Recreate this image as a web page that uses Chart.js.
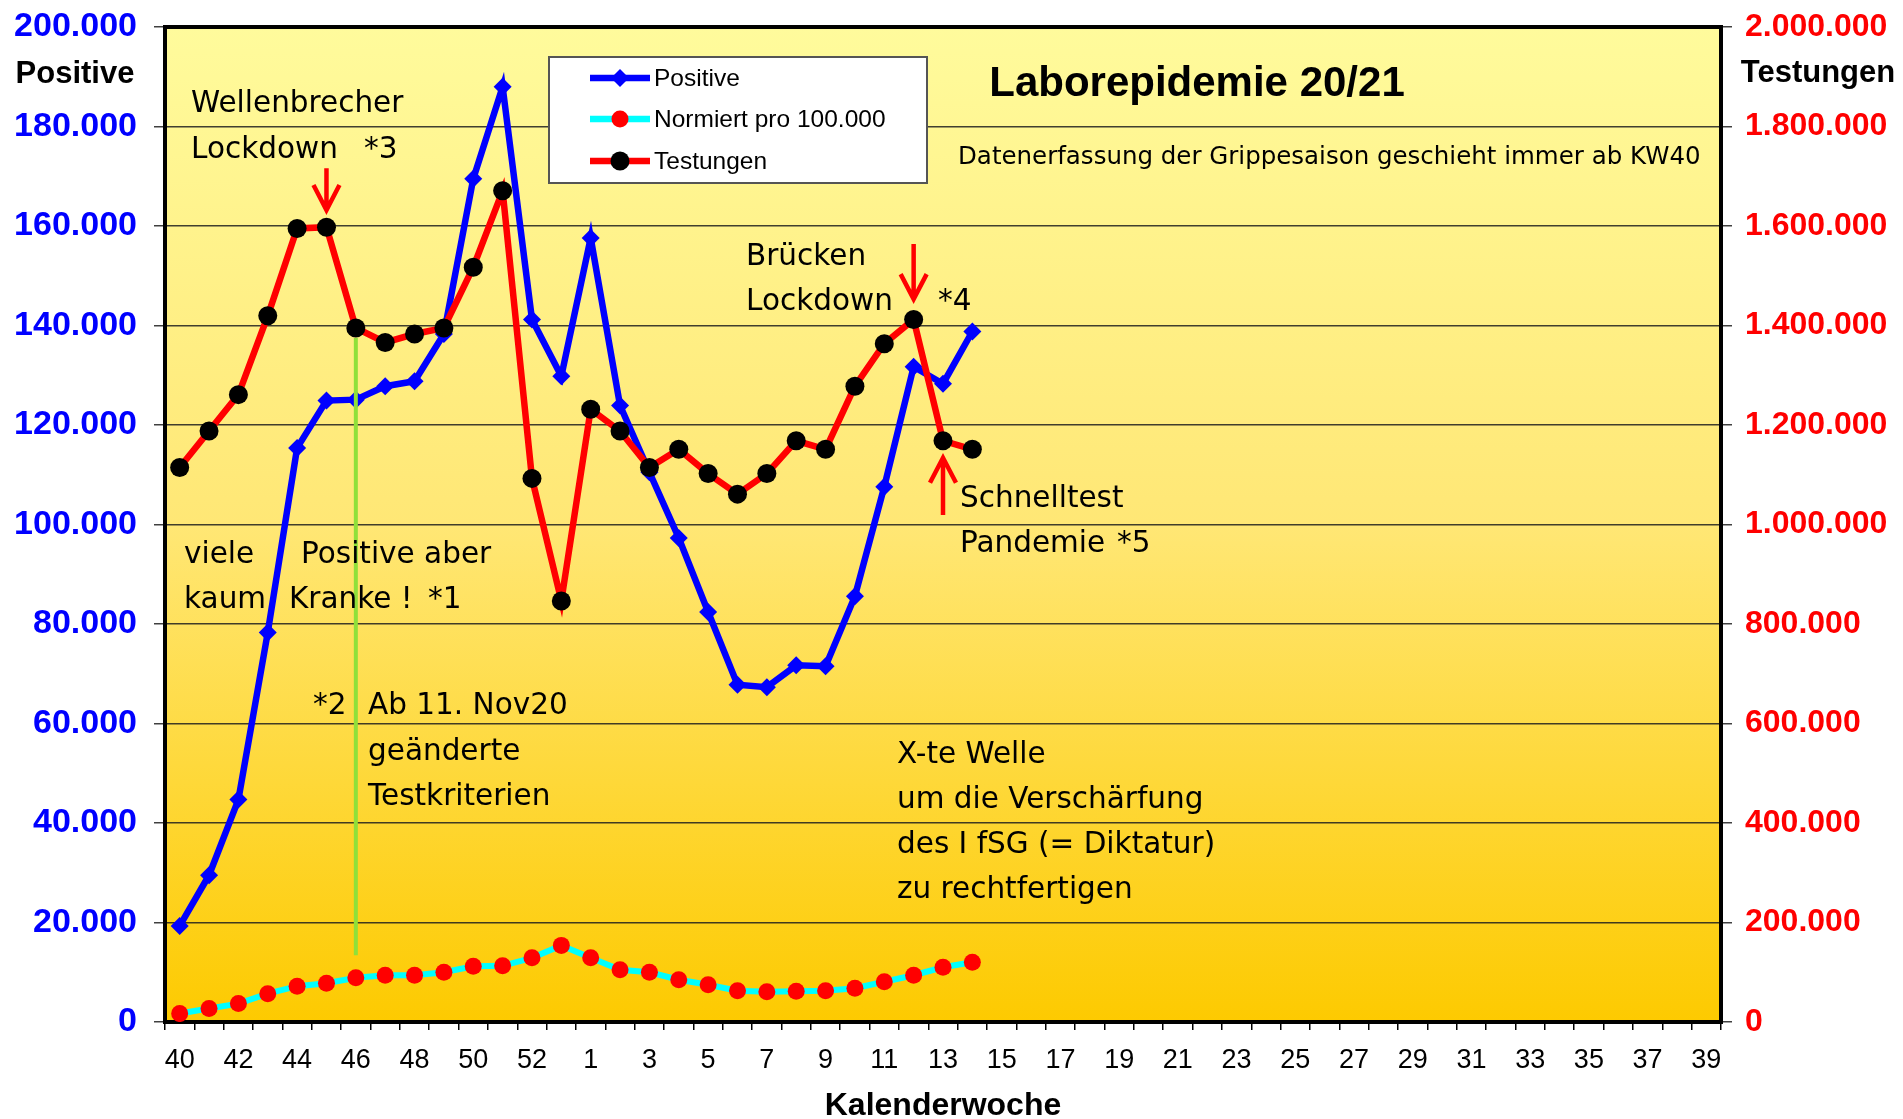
<!DOCTYPE html>
<html>
<head>
<meta charset="utf-8">
<script src="https://cdn.jsdelivr.net/npm/chart.js@4.4.1/dist/chart.umd.min.js"></script>
<style>
  html, body { margin:0; padding:0; background:#fff; }
</style>
</head>
<body>
<canvas id="chart" width="1903" height="1119"></canvas>
<script>
// calendar weeks of the season 20/21 (KW40 .. KW53, KW1 .. KW39)
const weeks = ['40','41','42','43','44','45','46','47','48','49','50','51','52','53',
               '1','2','3','4','5','6','7','8','9','10','11','12','13','14','15','16','17','18','19',
               '20','21','22','23','24','25','26','27','28','29','30','31','32','33','34','35','36','37','38','39'];

const positive  = [19300, 29500, 44700, 78300, 115400, 124900, 125100, 127800, 128800, 138300,
                   169500, 188000, 141200, 129800, 157600, 123900, 110500, 97300, 82400, 67800,
                   67300, 71700, 71500, 85600, 107600, 131700, 128300, 138800];

const normiert  = [1700, 2700, 3700, 5700, 7200, 7800, 8900, 9400, 9400, 10000,
                   11200, 11300, 12900, 15400, 12900, 10500, 10000, 8500, 7500, 6300,
                   6100, 6200, 6300, 6800, 8100, 9400, 11000, 12000];

const testungen = [1114600, 1187800, 1261000, 1419500, 1595100, 1597600, 1395100, 1365900, 1382900, 1395100,
                   1517100, 1670700, 1092700, 846300, 1231700, 1187800, 1114600, 1151200, 1102400, 1061000,
                   1102400, 1168300, 1151200, 1278000, 1363400, 1412200, 1168300, 1151200];

const fmt = v => String(v).replace(/\B(?=(\d{3})+(?!\d))/g, '.');
const AX = 'Liberation Sans, Arial, sans-serif';
const NOTE = 'DejaVu Sans, Verdana, sans-serif';

// red arrows, placed on the week axis and the "Positive" scale
const arrows = [
  { week:'45', from:171600, to:163200 },
  { week:'12', from:156400, to:145300 },
  { week:'13', from:101900, to:113400 }
];

const notes = [
  ['Wellenbrecher', 191, 104], ['Lockdown', 191, 150], ['*3', 364, 150],
  ['Brücken', 746, 257], ['Lockdown', 746, 302], ['*4', 938, 302],
  ['Schnelltest', 960, 499], ['Pandemie', 960, 544], ['*5', 1117, 544],
  ['viele', 184, 555], ['kaum', 184, 600],
  ['Positive aber', 301, 555], ['Kranke !', 289, 600], ['*1', 428, 600],
  ['*2', 313, 706], ['Ab 11. Nov20', 368, 706], ['geänderte', 368, 752], ['Testkriterien', 368, 797],
  ['X-te Welle', 897, 755], ['um die Verschärfung', 897, 800], ['des I fSG (= Diktatur)', 897, 845], ['zu rechtfertigen', 897, 890]
];

const bgPlugin = {
  id:'bg',
  beforeDraw(chart) {
    const { ctx, chartArea:a } = chart;
    const g = ctx.createLinearGradient(0, a.top, 0, a.bottom);
    g.addColorStop(0, '#fffb9c');
    g.addColorStop(0.5, '#ffe775');
    g.addColorStop(1, '#fdca00');
    ctx.save();
    ctx.fillStyle = g;
    ctx.fillRect(a.left, a.top, a.right - a.left, a.bottom - a.top);
    ctx.restore();
  },
  beforeDatasetsDraw(chart) {
    const { ctx, chartArea:a } = chart;
    ctx.save();
    ctx.strokeStyle = '#000';
    ctx.lineWidth = 4;
    ctx.strokeRect(a.left, a.top, a.right - a.left, a.bottom - a.top);
    ctx.restore();
  }
};

function marker(ctx, style, x, y, r, fill) {
  ctx.fillStyle = fill;
  ctx.beginPath();
  if (style === 'diamond') {
    ctx.moveTo(x, y - r); ctx.lineTo(x + r, y); ctx.lineTo(x, y + r); ctx.lineTo(x - r, y);
    ctx.closePath();
  } else {
    ctx.arc(x, y, r, 0, Math.PI * 2);
  }
  ctx.fill();
}

const overlayPlugin = {
  id:'overlay',
  afterDatasetsDraw(chart) {
    const { ctx } = chart;
    const xs = chart.scales.x, ys = chart.scales.y;
    ctx.save();

    // green marker line at KW46
    const gx = xs.getPixelForValue(weeks.indexOf('46'));
    ctx.strokeStyle = '#8fe03a';
    ctx.lineWidth = 4;
    ctx.beginPath();
    ctx.moveTo(gx, ys.getPixelForValue(137500));
    ctx.lineTo(gx, ys.getPixelForValue(13400));
    ctx.stroke();

    // arrows
    ctx.strokeStyle = '#ff0000';
    ctx.lineWidth = 4.5;
    arrows.forEach(a => {
      const x = xs.getPixelForValue(weeks.indexOf(a.week));
      const y0 = ys.getPixelForValue(a.from), y1 = ys.getPixelForValue(a.to);
      const dir = y1 > y0 ? -1 : 1;
      ctx.beginPath();
      ctx.moveTo(x, y0); ctx.lineTo(x, y1);
      ctx.moveTo(x - 13, y1 + dir * 25); ctx.lineTo(x, y1); ctx.lineTo(x + 13, y1 + dir * 25);
      ctx.stroke();
    });

    // notes
    ctx.fillStyle = '#000';
    ctx.textBaseline = 'middle';
    ctx.textAlign = 'left';
    ctx.font = '29.5px ' + NOTE;
    notes.forEach(([t, x, y]) => ctx.fillText(t, x, y));
    ctx.font = '24.5px ' + NOTE;
    ctx.fillText('Datenerfassung der Grippesaison geschieht immer ab KW40', 958, 158);

    // title
    ctx.font = 'bold 42px ' + AX;
    ctx.textAlign = 'center';
    ctx.fillText('Laborepidemie 20/21', 1197, 84);

    // axis titles
    ctx.font = 'bold 31px ' + AX;
    ctx.fillText('Positive', 75, 74);
    ctx.fillText('Testungen', 1818, 73);
    ctx.font = 'bold 32px ' + AX;
    ctx.fillText('Kalenderwoche', 943, 1106);

    // legend
    ctx.fillStyle = '#fff';
    ctx.fillRect(549, 57, 378, 126);
    ctx.strokeStyle = '#555';
    ctx.lineWidth = 2;
    ctx.strokeRect(549, 57, 378, 126);
    const items = [
      { label:'Positive', line:'#0000ff', mark:'diamond', fill:'#0000ff', r:9, y:78 },
      { label:'Normiert pro 100.000', line:'#00ffff', mark:'circle', fill:'#ff0000', r:8.5, y:119 },
      { label:'Testungen', line:'#ff0000', mark:'circle', fill:'#000000', r:9.5, y:161 }
    ];
    ctx.textAlign = 'left';
    ctx.font = '24.5px ' + AX;
    items.forEach(it => {
      ctx.strokeStyle = it.line;
      ctx.lineWidth = 6.5;
      ctx.beginPath();
      ctx.moveTo(590, it.y); ctx.lineTo(650, it.y);
      ctx.stroke();
      marker(ctx, it.mark, 620, it.y, it.r, it.fill);
      ctx.fillStyle = '#000';
      ctx.fillText(it.label, 654, it.y + 1);
    });
    ctx.restore();
  }
};

// fixed axis boxes so the plot frame sits where the original has it
const fixY = w => s => { s.width = w; s.paddingTop = 0; s.paddingBottom = 0; };

new Chart(document.getElementById('chart'), {
  type:'line',
  data:{
    labels:weeks,
    datasets:[
      { label:'Testungen', data:testungen, yAxisID:'y1', order:0,
        borderColor:'#ff0000', borderWidth:6.5, tension:0,
        pointStyle:'circle', pointRadius:9.5, pointBackgroundColor:'#000', pointBorderColor:'#000', pointBorderWidth:0 },
      { label:'Positive', data:positive, yAxisID:'y', order:1,
        borderColor:'#0000ff', borderWidth:6.5, tension:0,
        pointStyle:'rectRot', pointRadius:9, pointBackgroundColor:'#0000ff', pointBorderColor:'#0000ff', pointBorderWidth:0 },
      { label:'Normiert pro 100.000', data:normiert, yAxisID:'y', order:2,
        borderColor:'#00ffff', borderWidth:6, tension:0,
        pointStyle:'circle', pointRadius:8.5, pointBackgroundColor:'#ff0000', pointBorderColor:'#ff0000', pointBorderWidth:0 }
    ]
  },
  options:{
    responsive:false,
    animation:false,
    layout:{ padding:{ top:27, left:0, right:0, bottom:0 } },
    plugins:{ legend:{ display:false }, tooltip:{ enabled:false } },
    scales:{
      x:{
        offset:true,
        grid:{ offset:true, drawOnChartArea:false, drawTicks:true, tickLength:8, color:'#000', lineWidth:1.5 },
        border:{ display:false },
        ticks:{ autoSkip:false, maxRotation:0, padding:14, color:'#000',
                font:{ family:AX, size:27 },
                callback:(v, i) => i % 2 === 0 ? weeks[i] : '' },
        afterFit:s => { s.height = 97; s.paddingLeft = 0; s.paddingRight = 0; }
      },
      y:{
        position:'left', min:0, max:200000,
        grid:{ color:'rgba(30,30,30,0.85)', lineWidth:1.5, tickLength:11 },
        border:{ display:false },
        ticks:{ stepSize:20000, padding:17, color:'#0000ff',
                font:{ family:AX, size:34, weight:'bold' }, callback:fmt },
        afterFit:fixY(165)
      },
      y1:{
        position:'right', min:0, max:2000000,
        grid:{ drawOnChartArea:false, color:'rgba(30,30,30,0.85)', lineWidth:1.5, tickLength:11 },
        border:{ display:false },
        ticks:{ stepSize:200000, padding:13, color:'#ff0000',
                font:{ family:AX, size:32, weight:'bold' }, callback:fmt },
        afterFit:fixY(182)
      }
    }
  },
  plugins:[bgPlugin, overlayPlugin]
});
</script>
</body>
</html>
